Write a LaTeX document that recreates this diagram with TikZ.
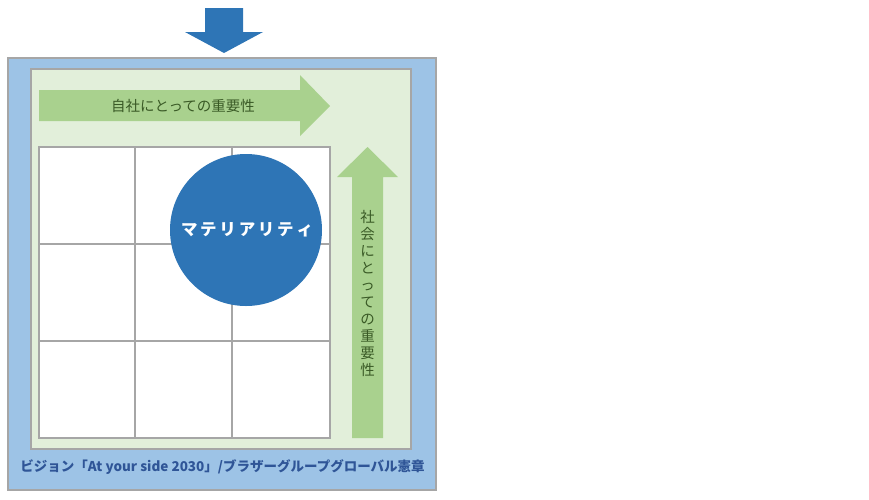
\documentclass[tikz,border=0pt]{standalone}
\usepackage{fontspec}
\newfontfamily\cjk{Noto Sans CJK JP}
\definecolor{outerblue}{HTML}{9DC3E6}
\definecolor{innergreen}{HTML}{E2EFDA}
\definecolor{arrowgreen}{HTML}{A9D18E}
\definecolor{darkblue}{HTML}{2E75B6}
\definecolor{textgreen}{HTML}{3A5A26}
\definecolor{captionblue}{HTML}{2F5597}
\definecolor{gridgray}{HTML}{A6A6A6}
\begin{document}
\begin{tikzpicture}[x=1pt,y=-1pt,
  framebox/.style={draw=gridgray,line width=1.2pt},
  gridline/.style={draw=gridgray,line width=1.5pt},
  greenarrow/.style={fill=arrowgreen,draw=none},
  lbl/.style={inner sep=0pt,font=\cjk}]
\useasboundingbox (0,0) rectangle (869,499);
% top arrow
\fill[darkblue] (205,8) -- (243,8) -- (243,32) -- (263,32) -- (224,53) -- (185,32) -- (205,32) -- cycle;
% outer & inner rectangles
\path[framebox,fill=outerblue] (8,58) rectangle (436,490);
\path[framebox,fill=innergreen] (31,69) rectangle (411,449);
% horizontal arrow
\path[greenarrow] (39,90) -- (300,90) -- (300,75) -- (330,106) -- (300,136) -- (300,121) -- (39,121) -- cycle;
\node[lbl,text=textgreen,font=\cjk\fontsize{14.5}{16}\selectfont] (hlabel) at (183,106) {自社にとっての重要性};
% vertical arrow
\path[greenarrow] (352,438) -- (352,177) -- (337,177) -- (367.5,147) -- (398,177) -- (383,177) -- (383,438) -- cycle;
\node[lbl,text=textgreen,align=center,font=\cjk\fontsize{14.5}{17}\selectfont] (vlabel) at (367.5,293)
  {社\\会\\に\\と\\っ\\て\\の\\重\\要\\性};
% grid
\fill[white] (39,147) rectangle (330,438);
\draw[gridline] (39,147) rectangle (330,438);
\draw[gridline] (135,147) -- (135,438) (232,147) -- (232,438);
\draw[gridline] (39,244) -- (330,244) (39,341) -- (330,341);
% circle
\node[circle,fill=darkblue,minimum size=152pt,inner sep=0pt] (mat) at (246,230) {};
\node[lbl,text=white,font=\cjk\bfseries\fontsize{16.5}{18}\selectfont] (matlabel) at (247,230) {マ\,テ\,リ\,ア\,リ\,テ\,ィ};
% caption
\node[lbl,text=captionblue,font=\cjk\bfseries\fontsize{13.5}{15}\selectfont] (caption) at (222.5,467) {ビジョン「At your side 2030」/ブラザーグループグローバル憲章};
\end{tikzpicture}
\end{document}
